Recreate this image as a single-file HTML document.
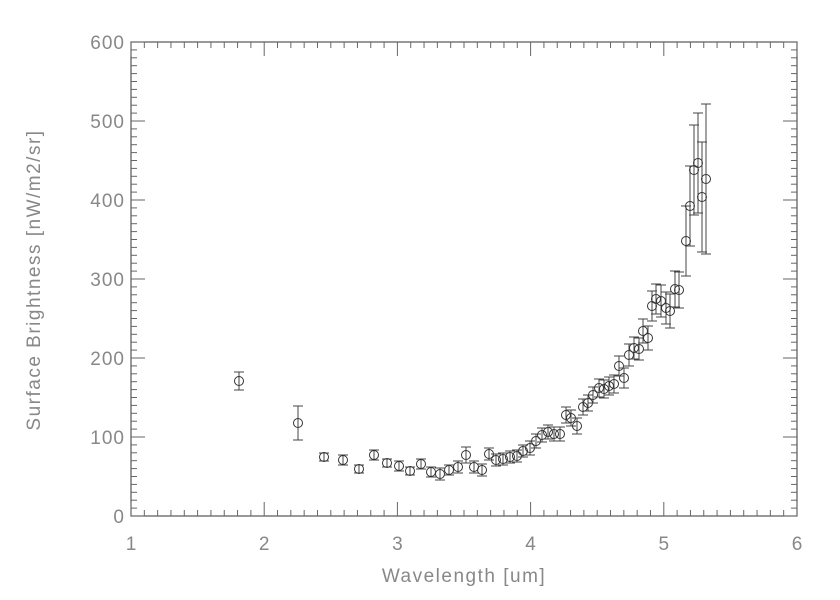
<!DOCTYPE html><html><head><style>body{margin:0;background:#fff}svg{display:block}text{font-family:"Liberation Sans",sans-serif;fill:#888;font-size:19px}</style></head><body>
<svg id="s" width="840" height="600" xmlns="http://www.w3.org/2000/svg"></svg>
<script>
var s=document.getElementById('s'),h='';
var L=131,R=797,T=42,B=516;
h+='<rect x="'+L+'" y="'+T+'" width="'+(R-L)+'" height="'+(B-T)+'" fill="none" stroke="#555" stroke-width="1.2"/>';
function X(w){return L+(w-1)*(R-L)/5}
function Y(v){return B-v*(B-T)/600}
for(var i=0;i<=50;i++){var x=X(1+i/10),l=i%10==0?14:6;
h+='<line x1="'+x+'" y1="'+B+'" x2="'+x+'" y2="'+(B-l)+'" stroke="#666"/><line x1="'+x+'" y1="'+T+'" x2="'+x+'" y2="'+(T+l)+'" stroke="#666"/>';
if(i%10==0)h+='<text x="'+x+'" y="'+(B+34)+'" text-anchor="middle">'+(1+i/10)+'</text>';}
for(var i=0;i<=60;i++){var y=Y(i*10),l=i%10==0?14:6;
h+='<line x1="'+L+'" y1="'+y+'" x2="'+(L+l)+'" y2="'+y+'" stroke="#666"/><line x1="'+R+'" y1="'+y+'" x2="'+(R-l)+'" y2="'+y+'" stroke="#666"/>';
if(i%10==0)h+='<text x="'+(L-6)+'" y="'+(y+7)+'" text-anchor="end" letter-spacing="1">'+(i*10)+'</text>';}
h+='<text x="464" y="582" text-anchor="middle" letter-spacing="1.5">Wavelength [um]</text>';
h+='<text transform="translate(40,280) rotate(-90)" text-anchor="middle" letter-spacing="1.5">Surface Brightness [nW/m2/sr]</text>';
var d=[[239,381,9],[298,423,17],[324,457,4],[343,460,5],[359,469,4],[374,455,5],[387,463,4],[399,466,5],[410,471,4],[421,464,5],[431,472,5],[440,474,6],[449,470,5],[458,467,6],[466,455,8],[474,467,6],[482,470,6],[489,454,6],[496,460,6],[503,459,6],[510,457,6],[517,456,6],[523,451,6],[530,448,7],[536,441,7],[542,435,7],[548,432,7],[554,434,7],[560,434,7],[566,415,8],[571,418,8],[577,426,8],[583,407,8],[588,403,8],[593,395,8],[599,388,9],[604,389,9],[609,386,9],[614,384,9],[619,366,10],[624,378,10],[629,355,11],[634,348,11],[639,349,11],[643,331,12],[648,338,12],[652,306,15],[656,299,15],[661,301,16],[666,308,16],[670,311,17],[675,289,18],[679,290,18],[686,241,35],[690,206,40],[694,170,45],[698,163,50],[702,197,55],[706,179,75]];
d.forEach(function(p){var x=p[0],y=p[1],e=p[2];
h+='<line x1="'+x+'" y1="'+(y-e)+'" x2="'+x+'" y2="'+(y+e)+'" stroke="#444"/><line x1="'+(x-5)+'" y1="'+(y-e)+'" x2="'+(x+5)+'" y2="'+(y-e)+'" stroke="#444"/><line x1="'+(x-5)+'" y1="'+(y+e)+'" x2="'+(x+5)+'" y2="'+(y+e)+'" stroke="#444"/><circle cx="'+x+'" cy="'+y+'" r="4.5" fill="none" stroke="#333"/>';});
s.innerHTML=h;
</script></body></html>
